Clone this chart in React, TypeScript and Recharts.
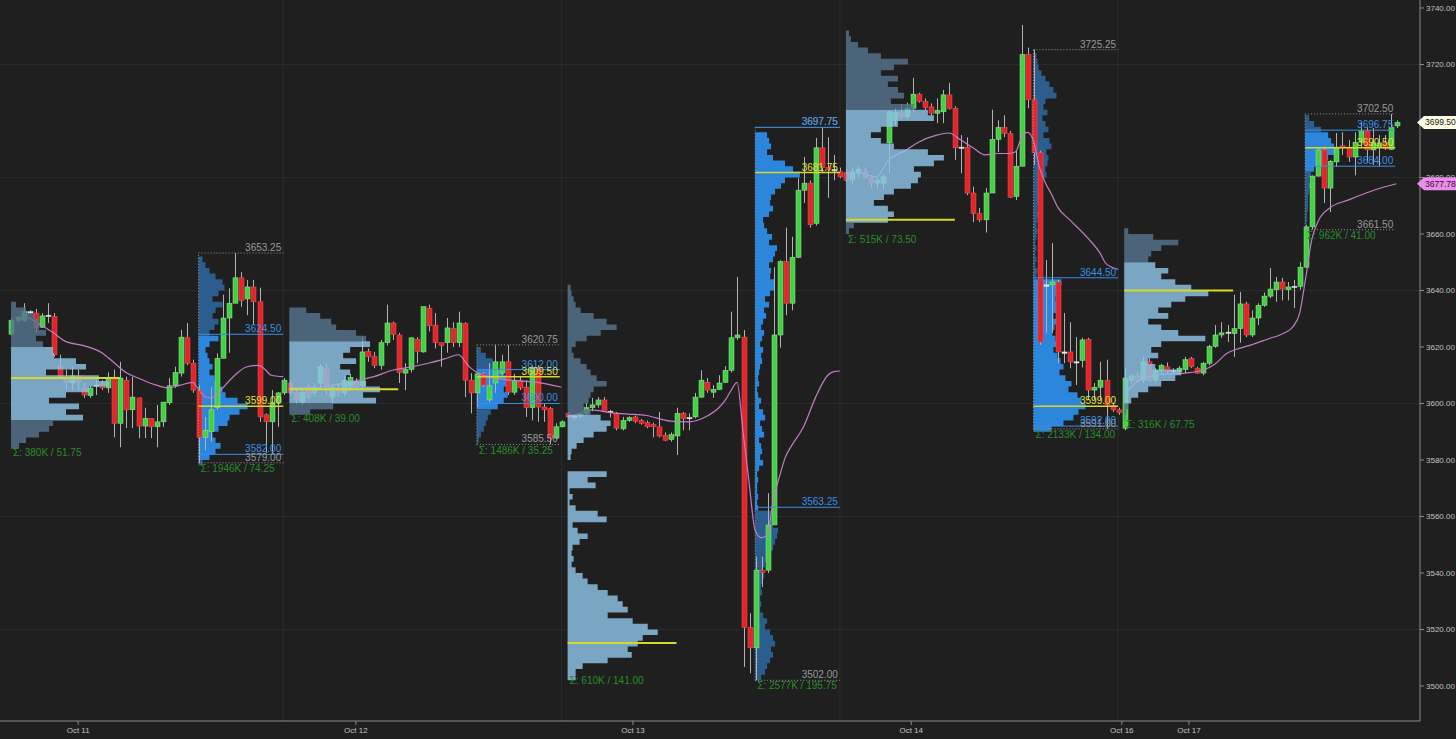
import React from 'react'
import { ComposedChart, Bar, Line, XAxis, YAxis, ReferenceLine, ReferenceArea } from 'recharts'

// ---- data -------------------------------------------------------------

// 30 min bars, [open, high, low, close], one array per trading session
const sessionOct11: number[][] = [
  [3624.5, 3630.25, 3624, 3629.5], [3629.5, 3631, 3628.5, 3630.5], [3629.5, 3635.5, 3629, 3632.5], [3632.5, 3633, 3631.5, 3632],
  [3632, 3633.5, 3625, 3627], [3627, 3632, 3626.75, 3631], [3631, 3635.5, 3628.5, 3631.25], [3630.75, 3632, 3616.5, 3617.25],
  [3613.5, 3617.25, 3609.25, 3609.5], [3609, 3612, 3604.75, 3607.5], [3607.25, 3613, 3604.75, 3609.75], [3609.75, 3612, 3604.75, 3607.5],
  [3605.5, 3607.25, 3602, 3603], [3602.75, 3606.5, 3602, 3605.5], [3606.5, 3608.25, 3603, 3606.25], [3607.25, 3608.25, 3604.75, 3605.5],
  [3605.5, 3611, 3603.75, 3609], [3609, 3612, 3588, 3593], [3593, 3614.75, 3584.5, 3609], [3608.25, 3609.5, 3591.25, 3597.75],
  [3597.75, 3609.5, 3591.25, 3602.25], [3602, 3602, 3587.75, 3592], [3592, 3598.5, 3587.75, 3594.75], [3594.75, 3594.75, 3587.75, 3591.75],
  [3591.75, 3599.5, 3584.5, 3593.5], [3593.5, 3600.5, 3591.75, 3600.5], [3600.25, 3609, 3599.5, 3606.25], [3606.25, 3613, 3605.5, 3611],
  [3610.75, 3626, 3609.5, 3623.5], [3623.25, 3628.5, 3613.5, 3614.25], [3614.25, 3615.5, 3603.75, 3604.75], [3604.75, 3606.5, 3579, 3588],
  [3588, 3595.25, 3583.5, 3590.5], [3590, 3605.75, 3586.5, 3597.75], [3598.5, 3617.75, 3597.75, 3616], [3616, 3638.5, 3616, 3630.25],
  [3630.25, 3640.75, 3618, 3635.5], [3635.5, 3653.25, 3635.5, 3644.5], [3644.5, 3646.5, 3634.25, 3636.5], [3637, 3643.75, 3631.25, 3641.25],
  [3641.25, 3643.75, 3627.75, 3636], [3636, 3641, 3593.5, 3595.25], [3596, 3596.5, 3582.5, 3593.5], [3593.5, 3604.75, 3582.5, 3600.25],
  [3600.25, 3604, 3591.75, 3603.75], [3603.75, 3609, 3603, 3608.25],
]

const sessionOct12: number[][] = [
  [3607.25, 3608.25, 3603, 3603.75], [3604, 3605, 3600, 3601.25], [3600.5, 3605, 3599.5, 3604], [3605.75, 3607, 3601.5, 3602.25],
  [3603.75, 3607, 3602.5, 3605.75], [3607.25, 3614, 3605, 3613], [3612.5, 3614, 3603, 3604.75], [3602.25, 3606.5, 3600, 3605.75],
  [3605.5, 3607, 3602.5, 3603.75], [3603.75, 3609.5, 3602.5, 3608.25], [3605.75, 3610.5, 3604.5, 3609.25], [3607.5, 3609, 3605, 3605.75],
  [3606.25, 3623.5, 3604.75, 3618.25], [3618.5, 3619.5, 3614.75, 3616.5], [3616.75, 3618.25, 3612.5, 3613.5], [3613.5, 3622.5, 3612, 3621.5],
  [3621.5, 3635, 3620.5, 3628.5], [3628.5, 3629, 3622.5, 3624.5], [3624.25, 3625, 3607.25, 3611], [3610.75, 3614.25, 3604.75, 3612],
  [3612, 3623.25, 3611, 3623.25], [3622.75, 3623.5, 3614.25, 3618.5], [3618.25, 3634.25, 3618, 3634.25], [3633.75, 3635, 3625.5, 3627.5],
  [3627.75, 3632, 3619.5, 3621.5], [3621.5, 3621.5, 3613, 3620.5], [3621.5, 3630.25, 3618, 3626.75], [3626.5, 3628.75, 3620, 3621.5],
  [3621.5, 3632.5, 3620, 3628.5], [3628.25, 3628.75, 3602.25, 3608.25], [3608.25, 3610.75, 3596.5, 3603.75], [3603.75, 3610.75, 3598.75, 3610.5],
  [3610.5, 3611, 3605.75, 3606.5], [3601.25, 3614.25, 3600.5, 3606.25], [3607.25, 3620.75, 3603.75, 3614.75], [3610.75, 3617.25, 3610, 3614.75],
  [3614.75, 3620.75, 3603, 3604], [3604, 3610.5, 3603, 3608.25], [3608.25, 3609.5, 3604.75, 3605.5], [3605.75, 3608.25, 3595.25, 3598.5],
  [3598.5, 3613.5, 3594, 3612.75], [3612.75, 3613.5, 3593.5, 3598.75], [3598.75, 3600, 3593.5, 3597.75], [3598.25, 3598.75, 3585.5, 3587.75],
  [3587.75, 3593, 3587.25, 3591.75], [3591.75, 3594, 3591.5, 3593.5],
]

const sessionOct13: number[][] = [
  [3596.5, 3597, 3594.75, 3595.25], [3595.25, 3596, 3594, 3595.5], [3595.5, 3597, 3594.75, 3596.25], [3596.5, 3600.25, 3595.75, 3598.5],
  [3598.5, 3602, 3597.25, 3599.5], [3599.5, 3602.25, 3598.5, 3601.25], [3601.25, 3602.25, 3597, 3597.25], [3597.25, 3597.75, 3595, 3596.75],
  [3596.5, 3597, 3590.5, 3591.25], [3591, 3595.25, 3590.5, 3594], [3594, 3595.5, 3593.5, 3595], [3595.25, 3595.75, 3593, 3593.75],
  [3594, 3594.5, 3592.5, 3593], [3593.25, 3594, 3591.25, 3591.75], [3592.5, 3593.25, 3588, 3591.75], [3591.75, 3597, 3588, 3588.5],
  [3588.75, 3589.75, 3586.75, 3587], [3587.25, 3589.75, 3586.5, 3589], [3588.5, 3598.5, 3581.75, 3596.5], [3596.5, 3597, 3590.5, 3594.75],
  [3594.75, 3596.5, 3590.5, 3595], [3595.25, 3603.75, 3594.75, 3602.25], [3602.25, 3611.75, 3602, 3608.25], [3607.5, 3609, 3603.75, 3604.75],
  [3604, 3606.5, 3602, 3605], [3605, 3610, 3604.75, 3607.25], [3607.5, 3613.25, 3607.25, 3611.75], [3611.75, 3632.5, 3611, 3623.25],
  [3623.25, 3644.75, 3622.5, 3624.25], [3623.5, 3626, 3506.75, 3520.75], [3520.75, 3525.75, 3504.5, 3513.5], [3513.5, 3545.75, 3502, 3541],
  [3541, 3545.75, 3535, 3540.25], [3541, 3568.25, 3540, 3557], [3557, 3648.25, 3557, 3624.25], [3624.25, 3650.75, 3619.75, 3650.25],
  [3650.25, 3662.25, 3631.25, 3635.5], [3635.5, 3659, 3633, 3651.75], [3651.75, 3679.75, 3651.5, 3675.5], [3675.5, 3687.25, 3671, 3678],
  [3678, 3679, 3662.25, 3663.25], [3663.75, 3694, 3663, 3690.5], [3690.5, 3697.75, 3681.5, 3683.5], [3683.5, 3694.25, 3672.75, 3682.75],
  [3682.75, 3688, 3679, 3682.5], [3682, 3683.5, 3679.75, 3680.25],
]

const sessionOct14: number[][] = [
  [3681.75, 3683, 3678.5, 3679], [3679.25, 3683.5, 3677.5, 3682], [3681.75, 3684, 3679.5, 3683], [3682, 3683.5, 3679.5, 3680],
  [3680, 3681, 3676.5, 3678], [3678, 3680, 3676, 3679], [3678, 3681, 3675.75, 3680.25], [3692.25, 3703.75, 3681.5, 3703.25],
  [3700.25, 3704.5, 3698.5, 3703], [3703, 3706, 3700.75, 3701.5], [3701.5, 3706.5, 3700.5, 3704.5], [3704.5, 3715.25, 3703.25, 3709.5],
  [3709.5, 3710, 3706.5, 3707], [3707, 3708, 3704, 3704.75], [3705, 3706.25, 3702, 3702.75], [3702.75, 3708, 3699.25, 3703.75],
  [3703.25, 3711, 3699.25, 3709.25], [3709.25, 3713.5, 3704, 3704.5], [3704.5, 3705.25, 3686.25, 3690.5], [3690.5, 3695, 3681.5, 3690.75],
  [3690.75, 3694.25, 3673.75, 3674.5], [3674.5, 3676.75, 3664.25, 3667.25], [3667.25, 3669.25, 3664.25, 3665], [3665, 3676.25, 3660.5, 3674.5],
  [3674.5, 3704, 3674.5, 3693.5], [3693.5, 3700.25, 3689, 3697.75], [3697.75, 3702, 3694.25, 3695.5], [3695.5, 3696.5, 3672.75, 3673],
  [3673.25, 3689.75, 3672, 3684], [3684, 3734, 3684, 3723.5], [3723.5, 3726, 3704.5, 3707.5], [3707.5, 3725.25, 3684.5, 3688.75],
  [3688.75, 3689.5, 3620.75, 3621.75], [3641.5, 3650.75, 3625, 3642], [3642, 3656.75, 3625, 3643], [3643, 3643.75, 3614.25, 3618.25],
  [3618.25, 3632, 3614.25, 3617.75], [3618.25, 3628.75, 3612.5, 3614.75], [3614.75, 3623.5, 3606.5, 3614.5], [3615.25, 3623.25, 3612.75, 3622.5],
  [3622.75, 3623.25, 3601.25, 3604.75], [3604.75, 3607.25, 3601.25, 3605.75], [3605.75, 3614.75, 3601.25, 3608.25], [3608.25, 3615.5, 3591, 3599.5],
  [3599.25, 3600.25, 3597, 3597.75], [3597.75, 3598.5, 3596, 3596.75],
]

const sessionOct17: number[][] = [
  [3591.25, 3612.5, 3590.5, 3609], [3608.25, 3610.5, 3607, 3609.75], [3609.75, 3611, 3607.5, 3608.25], [3608.25, 3616.5, 3607.25, 3614.75],
  [3614.75, 3616, 3607.5, 3608.25], [3608.25, 3612.5, 3607.5, 3611.75], [3611.75, 3614, 3610.5, 3613.5], [3613, 3614.5, 3610.5, 3611.25],
  [3611.25, 3612.5, 3610.5, 3611.75], [3611.25, 3613.25, 3610.75, 3612.5], [3612, 3616.5, 3610.75, 3615.5], [3616, 3616.5, 3612.5, 3613],
  [3612.5, 3613, 3610.5, 3610.75], [3610.75, 3614.75, 3610, 3614.25], [3614.25, 3620.75, 3613.5, 3620.25], [3620.25, 3627.75, 3619.75, 3624.25],
  [3624.25, 3628.75, 3623.25, 3625], [3625, 3627.75, 3621.75, 3625.25], [3624.75, 3638.5, 3616.5, 3626.5], [3626.5, 3639.5, 3621.5, 3635.25],
  [3635.25, 3636, 3623.5, 3624.25], [3624.25, 3633, 3623.5, 3630.25], [3630.25, 3635.5, 3627.75, 3634.75], [3634.75, 3639.25, 3634.25, 3638],
  [3638, 3648, 3637.25, 3640.5], [3640.25, 3644.75, 3636, 3643], [3643, 3644.5, 3636.5, 3640.5], [3640.25, 3643, 3636.5, 3641.25],
  [3641.25, 3643.75, 3633.75, 3641.5], [3641.5, 3650, 3640.25, 3648.25], [3648.25, 3663.25, 3648, 3662.5], [3662.5, 3680.75, 3661.5, 3680.5],
  [3680.5, 3690.75, 3680.25, 3689.75], [3689.75, 3690.5, 3671, 3676.25], [3676.25, 3686.25, 3667.75, 3685.75], [3685.5, 3695.75, 3683.75, 3690.75],
  [3691.25, 3696, 3688, 3690.5], [3690.75, 3693.25, 3685.5, 3687.25], [3687.25, 3696, 3680.75, 3692.5], [3692.5, 3699.5, 3690.75, 3696.5],
  [3696.5, 3697.75, 3685.25, 3689.75], [3689.75, 3697.5, 3684.5, 3692.25], [3690.75, 3695, 3684, 3692.25], [3692.25, 3695, 3689.75, 3690.25],
  [3690, 3702.5, 3689.75, 3697.75], [3698.25, 3700.25, 3697.5, 3699.5],
]

// session VWAP, [bar index, value]
const vwapOct11 = [[2, 3631.5], [4, 3629], [7, 3625], [9, 3622], [12, 3620.5], [15, 3618], [17, 3614.5], [19, 3611], [21, 3609], [24, 3606.5], [26, 3605.5], [28, 3606.5], [30, 3607.5], [31, 3605], [32, 3602.5], [33, 3602], [34, 3603], [35, 3605.5], [37, 3610], [39, 3613], [41, 3613.5], [42, 3612], [43, 3610], [45, 3609.5]]
const vwapOct12 = [[46, 3605.5], [50, 3605.5], [53, 3606.5], [56, 3607.5], [58, 3608.5], [60, 3609.5], [63, 3611.75], [65, 3612.5], [69, 3614.25], [72, 3616], [74, 3617.25], [75, 3615], [76, 3612.5], [77, 3611], [80, 3609], [84, 3608], [87, 3607.5], [91, 3605.75]]
const vwapOct13 = [[92, 3595.25], [94, 3596.5], [96, 3597.75], [99, 3596.75], [102, 3596.25], [105, 3595.75], [109, 3593.75], [112, 3593.5], [115, 3595.5], [117, 3598.5], [118, 3601], [119, 3604.5], [120, 3607.5], [121, 3590], [122, 3572], [123, 3555], [124, 3552.5], [125, 3553.5], [126, 3565.75], [127, 3574], [128, 3581], [129, 3585], [131, 3591.75], [133, 3602.25], [135, 3610], [136, 3611.25], [137, 3611.5]]
const vwapOct14 = [[138, 3681.5], [140, 3681.5], [143, 3680.25], [145, 3686], [148, 3689.75], [150, 3692.5], [153, 3695], [155, 3695.75], [157, 3693.25], [159, 3690.5], [161, 3688], [163, 3688.5], [165, 3688.5], [166, 3689], [167, 3694], [168, 3696], [169, 3693], [170, 3683.5], [171, 3678], [172, 3674], [173, 3669.5], [175, 3665], [178, 3658.5], [180, 3653.25], [181, 3649.5], [183, 3647.5]]
const vwapOct17 = [[184, 3603], [186, 3607.5], [188, 3609.5], [190, 3610.25], [194, 3610.75], [197, 3611.75], [199, 3614], [201, 3617.75], [203, 3619.5], [205, 3620.75], [208, 3623], [210, 3624.5], [212, 3627.5], [213, 3632], [214, 3644.5], [215, 3658], [216, 3664.25], [218, 3669.25], [221, 3672], [224, 3674.5], [226, 3676], [229, 3677.78]]

// volume profiles: relative volume per 2 pt row, from the top row down
const volOct11Eth = [5, 15, 23, 28, 28, 35, 25, 32, 42, 43, 65, 75, 35, 88, 98, 78, 55, 38, 68, 55, 72, 42, 38, 28, 15, 8]
const volOct11Rth = [4, 7, 11, 17, 24, 26, 20, 14, 24, 17, 14, 20, 16, 11, 20, 11, 7, 9, 11, 14, 11, 16, 20, 24, 27, 39, 49, 41, 31, 29, 20, 14, 17, 22, 17, 11, 4]
const volOct12Eth = [17, 31, 42, 47, 67, 77, 81, 61, 54, 67, 51, 61, 57, 77, 91, 74, 87, 44, 21]
const volOct12Rth = [4, 9, 16, 21, 27, 34, 31, 27, 31, 27, 21, 14, 11, 9, 7, 4, 2]
const volOct13Eth = [
  3, 4, 6, 8, 13, 26, 39, 49, 33, 19, 8, 4, 6, 13, 19, 23, 29, 39, 26, 23, 21, 16, 23, 33, 43, 39, 26, 16, 9, 4, 3,
  0, 0,
  39, 20, 28, 2, 5, 2, 8, 30, 39, 5, 10, 20, 12, 5, 4, 6, 4, 8, 15, 20, 30, 40, 50, 55, 60, 40, 65, 80, 90, 75, 70, 60, 64, 40, 15, 8, 8,
]
const volOct13Rth = [
  12, 14, 16, 12, 18, 30, 38, 45, 30, 26, 20, 16, 15, 18, 14, 8, 9, 12, 17, 14, 22, 20, 18, 14, 16, 15, 20, 19, 15, 10,
  14, 9, 11, 8, 6, 9, 7, 5, 8, 6, 7, 5, 4, 3, 4, 2, 3, 6, 4, 8, 10, 5, 7, 9, 4, 6, 7, 5, 8, 4, 2, 3, 2, 2, 3, 2, 3,
  16, 20, 18, 23, 22, 20, 18, 14, 12, 10, 8, 9, 7, 6, 7, 5, 6, 5, 8, 12, 10, 15, 18, 20, 16, 18, 15, 12, 10, 6,
]
const volOct14Eth = [3, 5, 12, 22, 35, 62, 48, 35, 52, 42, 52, 58, 45, 68, 82, 88, 52, 35, 25, 35, 48, 82, 98, 88, 68, 75, 72, 65, 48, 38, 28, 42, 48, 42, 8, 3]
const volOct14Rth = [
  3, 4, 5, 8, 12, 16, 20, 23, 12, 10, 14, 9, 12, 15, 10, 16, 18, 13, 15, 14, 12, 13, 8, 6, 7, 5, 6, 4, 5, 4, 3, 4, 3, 2, 3, 2, 3, 2, 4, 3,
  28, 26, 25, 22, 24, 23, 20, 25, 21, 19, 22, 25, 20, 24, 27, 30, 26, 32, 38, 35, 44, 48, 52, 45, 40, 30, 18,
]
const volOct17Eth = [4, 29, 54, 37, 27, 24, 31, 44, 37, 51, 67, 84, 61, 47, 34, 44, 24, 37, 54, 81, 37, 27, 34, 24, 31, 57, 51, 37, 24, 14, 7, 4, 2, 1]
const volOct17Rth = [4, 9, 16, 23, 26, 29, 29, 23, 18, 9, 6, 4, 5, 4, 3, 3, 3, 2, 2, 1, 1]

const dateTickPos = [11.1, 57, 102.8, 148.8, 183.6, 194.7]
const dateLabels = ['Oct 11', 'Oct 12', 'Oct 13', 'Oct 14', 'Oct 16', 'Oct 17']
const priceTicks = [3500, 3520, 3540, 3560, 3580, 3600, 3620, 3640, 3660, 3680, 3700, 3720, 3740]
const gridPrices = [3520, 3560, 3600, 3640, 3680, 3720]
const sessionEnds = [45, 91, 137, 183]

const lastPrice = 3699.5
const lastVwap = 3677.78

// ---- layout / style ---------------------------------------------------

const X_MIN = -1.818
const X_MAX = 232.89
const Y_MIN = 3487.6
const Y_MAX = 3742.83
const STEP = 2

const BG = '#1f1f1f'
const GRID = '#2c2c2c'
const AXIS = '#8c8c8c'
const TXT = '#c2c2c2'
const UP = '#46cf46'
const UP_EDGE = '#8ff08f'
const DOWN = '#e0262b'
const DOWN_EDGE = '#ff5050'
const WICK = '#b3b3b3'
const PINK = '#c47cc8'
const ETH_IN = '#8fc3e8'
const ETH_OUT = '#57748f'
const RTH_IN = '#2b86dc'
const RTH_OUT = '#2b5e8e'
const L_GRAY = '#9a9a9a'
const L_BLUE = '#3c8fe4'
const L_YEL = '#e2e23a'
const L_GREEN = '#2c8c2c'
const POC = '#d8d82a'

const ethProfiles = [
  { vols: volOct11Eth, top: 3636, start: 0, maxW: 16.2, vah: 3619.5, val: 3594.5, poc: 3609, low: 3584.75, sigma: 'Σ: 380K / 51.75' },
  { vols: volOct12Eth, top: 3634, start: 46, maxW: 15, vah: 3622, val: 3600.5, poc: 3605, low: 3596.5, sigma: 'Σ: 408K / 39.00' },
  { vols: volOct13Eth, top: 3642, start: 92, maxW: 14.9, vah: 3595.5, val: 3500, poc: 3515.25, low: 3503.75, sigma: 'Σ: 610K / 141.00' },
  { vols: volOct14Eth, top: 3732, start: 138, maxW: 16.2, vah: 3704.5, val: 3664.5, poc: 3665, low: 3660, sigma: 'Σ: 515K / 73.50' },
  { vols: volOct17Eth, top: 3662, start: 184, maxW: 13.9, vah: 3650, val: 3602, poc: 3640, low: 3594.5, sigma: 'Σ: 316K / 67.75' },
]

const rthProfiles = [
  { vols: volOct11Rth, top: 3652, start: 31, end: 45, maxW: 8.1, high: 3653.25, vah: 3624.5, poc: 3599, val: 3582, low: 3579, sigma: 'Σ: 1946K / 74.25' },
  { vols: volOct12Rth, top: 3620, start: 77, end: 90.7, maxW: 5.6, high: 3620.75, vah: 3612, poc: 3609.5, val: 3600, low: 3585.5, sigma: 'Σ: 1486K / 35.25' },
  { vols: volOct13Rth, top: 3696, start: 123, end: 137, maxW: 7.4, high: 3697.75, vah: 3697.75, poc: 3681.75, val: 3563.25, low: 3502, sigma: 'Σ: 2577K / 195.75' },
  { vols: volOct14Rth, top: 3724, start: 169, end: 183, maxW: 8.6, high: 3725.25, vah: 3644.5, poc: 3599, val: 3592, low: 3591, sigma: 'Σ: 2133K / 134.00' },
  { vols: volOct17Rth, top: 3702, start: 213.9, end: 228.8, maxW: 4.8, high: 3702.5, vah: 3696.75, poc: 3690.5, val: 3684, low: 3661.5, sigma: 'Σ: 962K / 41.00' },
]

const candles = [sessionOct11, sessionOct12, sessionOct13, sessionOct14, sessionOct17]
  .flat()
  .map(([o, h, l, c], i) => ({ i, o, h, l, c, range: [l, h] }))

const toPoints = (arr: number[][]) => arr.map(([i, v]) => ({ i, v }))
const vwaps = [vwapOct11, vwapOct12, vwapOct13, vwapOct14, vwapOct17].map(toPoints)

// tag values go last so they are painted over the normal tick labels
const axisTicks = [...priceTicks, lastVwap, lastPrice]

// ---- pieces -----------------------------------------------------------

function Candle(props: any) {
  const { x, y, width, height, payload } = props
  if (!payload || height == null) return null
  const { o, h, l, c } = payload
  const k = height / (h - l || 1)
  const cx = Math.round(x + width / 2) + 0.5
  const yo = y + (h - o) * k
  const yc = y + (h - c) * k
  const top = Math.min(yo, yc)
  const bh = Math.max(Math.abs(yo - yc), 1.2)
  const flat = Math.abs(c - o) < 0.6
  const fill = flat ? '#e6e6e6' : c > o ? UP : DOWN
  const edge = flat ? '#e6e6e6' : c > o ? UP_EDGE : DOWN_EDGE
  return (
    <g>
      <line x1={cx} x2={cx} y1={y} y2={y + height} stroke={WICK} strokeWidth={1} />
      <rect x={cx - 2.5} y={top} width={5} height={bh} fill={fill} stroke={edge} strokeWidth={0.5} />
    </g>
  )
}

function profileArea(p: any, rth: boolean, key: string) {
  const n = p.vols.length
  const bottom = p.top - STEP * n
  const maxV = Math.max(...p.vols)
  const inC = rth ? RTH_IN : ETH_IN
  const outC = rth ? RTH_OUT : ETH_OUT
  const inVA = (k: number) => {
    const mid = p.top - STEP * (k + 0.5)
    return mid >= p.val - 1 && mid <= p.vah
  }
  return (
    <ReferenceArea
      key={key}
      x1={p.start}
      x2={p.start + p.maxW}
      y1={bottom}
      y2={p.top}
      zIndex={rth ? 150 : 350}
      shape={(s: any) => {
        const rowH = s.height / n
        // one stepped outline per run of rows with the same colour
        const paths: { d: string; fill: string }[] = []
        let k = 0
        while (k < n) {
          const va = inVA(k)
          let d = `M${s.x},${s.y + k * rowH}`
          let j = k
          while (j < n && inVA(j) === va) {
            const w = (p.vols[j] / maxV) * s.width
            d += ` L${s.x + w},${s.y + j * rowH} L${s.x + w},${s.y + (j + 1) * rowH}`
            j++
          }
          d += ` L${s.x},${s.y + j * rowH} Z`
          paths.push({ d, fill: va ? inC : outC })
          k = j
        }
        return (
          <g opacity={rth ? 1 : 0.82}>
            {paths.map((q, i) => <path key={i} d={q.d} fill={q.fill} />)}
          </g>
        )
      }}
    />
  )
}

const lbl = (value: string, fill: string, position: string) => ({ value, fill, position, fontSize: 10, offset: 2 })

function hLine(key: string, x1: number, x2: number, y: number, stroke: string, label?: any, dash?: string, width = 1) {
  return (
    <ReferenceLine
      key={key}
      segment={[{ x: x1, y }, { x: x2, y }]}
      stroke={stroke}
      strokeWidth={width}
      strokeDasharray={dash}
      label={label}
      zIndex={450}
    />
  )
}

function PriceTick(props: any) {
  const { x, y, payload } = props
  const v = payload.value
  const ax = x - 6
  if (v === lastPrice || v === lastVwap) {
    const bg = v === lastPrice ? '#fdfbe4' : '#ea8ee8'
    const fg = v === lastPrice ? '#222' : '#3a0a3a'
    return (
      <g>
        <path d={`M${ax - 3},${y} L${ax + 4},${y - 6.5} L${ax + 36},${y - 6.5} L${ax + 36},${y + 6.5} L${ax + 4},${y + 6.5} Z`} fill={bg} />
        <text x={ax + 5} y={y + 3} fontSize={8.5} fill={fg}>{v.toFixed(2)}</text>
      </g>
    )
  }
  return <text x={x} y={y + 3} fontSize={8} fill={TXT}>{v.toFixed(2)}</text>
}

export default function App() {
  return (
    <div style={{ position: 'fixed', left: 0, top: 0, width: 1456, height: 739, background: BG, fontFamily: '"Liberation Sans", Arial, sans-serif' }}>
      <ComposedChart width={1456} height={739} data={candles} margin={{ top: 0, right: 0, bottom: 0, left: 0 }}>
        <XAxis
          dataKey="i"
          type="number"
          domain={[X_MIN, X_MAX]}
          allowDataOverflow
          ticks={dateTickPos}
          interval={0}
          tickFormatter={(v: number) => dateLabels[dateTickPos.indexOf(v)]}
          height={18}
          stroke={AXIS}
          tick={{ fill: TXT, fontSize: 8 }}
          tickSize={4}
          tickMargin={2}
        />
        <YAxis
          orientation="right"
          type="number"
          domain={[Y_MIN, Y_MAX]}
          allowDataOverflow
          ticks={axisTicks}
          interval={0}
          width={36}
          stroke={AXIS}
          tick={<PriceTick />}
          tickSize={4}
          tickMargin={2}
        />

        {gridPrices.map((p) => (
          <ReferenceLine key={'gy' + p} y={p} stroke={GRID} strokeWidth={1} zIndex={50} />
        ))}
        {sessionEnds.map((s) => (
          <ReferenceLine key={'gx' + s} x={s} stroke={GRID} strokeWidth={1} zIndex={50} />
        ))}

        {rthProfiles.map((p, k) => profileArea(p, true, 'rth' + k))}

        <Bar dataKey="range" shape={<Candle />} barSize={5} isAnimationActive={false} zIndex={300} />

        {vwaps.map((d, k) => (
          <Line key={'vw' + k} data={d} dataKey="v" type="monotone" stroke={PINK} strokeWidth={1.2}
            dot={false} activeDot={false} isAnimationActive={false} zIndex={320} />
        ))}

        {ethProfiles.map((p, k) => profileArea(p, false, 'eth' + k))}

        {ethProfiles.map((p, k) => [
          hLine('ep' + k, p.start, p.start + 18, p.poc, POC, undefined, undefined, 2),
          hLine('es' + k, p.start, p.start + 14, p.low, 'none', lbl(p.sigma, L_GREEN, 'insideTopLeft')),
        ])}

        {rthProfiles.map((p, k) => [
          <ReferenceLine key={'rv' + k} segment={[{ x: p.start, y: p.low }, { x: p.start, y: p.high }]}
            stroke={L_GRAY} strokeDasharray="1 2" zIndex={450} />,
          hLine('rh' + k, p.start, p.end, p.high, L_GRAY, lbl(p.high.toFixed(2), L_GRAY, 'insideBottomRight'), '1 2'),
          hLine('rl' + k, p.start, p.end, p.low, L_GRAY, lbl(p.low.toFixed(2), L_GRAY, 'insideBottomRight'), '1 2'),
          hLine('ra' + k, p.start, p.end, p.vah, L_BLUE, lbl(p.vah.toFixed(2), L_BLUE, 'insideBottomRight')),
          hLine('rb' + k, p.start, p.end, p.val, L_BLUE, lbl(p.val.toFixed(2), L_BLUE, 'insideBottomRight')),
          hLine('rp' + k, p.start, p.end, p.poc, POC, lbl(p.poc.toFixed(2), L_YEL, 'insideBottomRight'), undefined, 1.5),
          hLine('rs' + k, p.start, p.start + 12, p.low, 'none', lbl(p.sigma, L_GREEN, 'insideTopLeft')),
        ])}
      </ComposedChart>
    </div>
  )
}
